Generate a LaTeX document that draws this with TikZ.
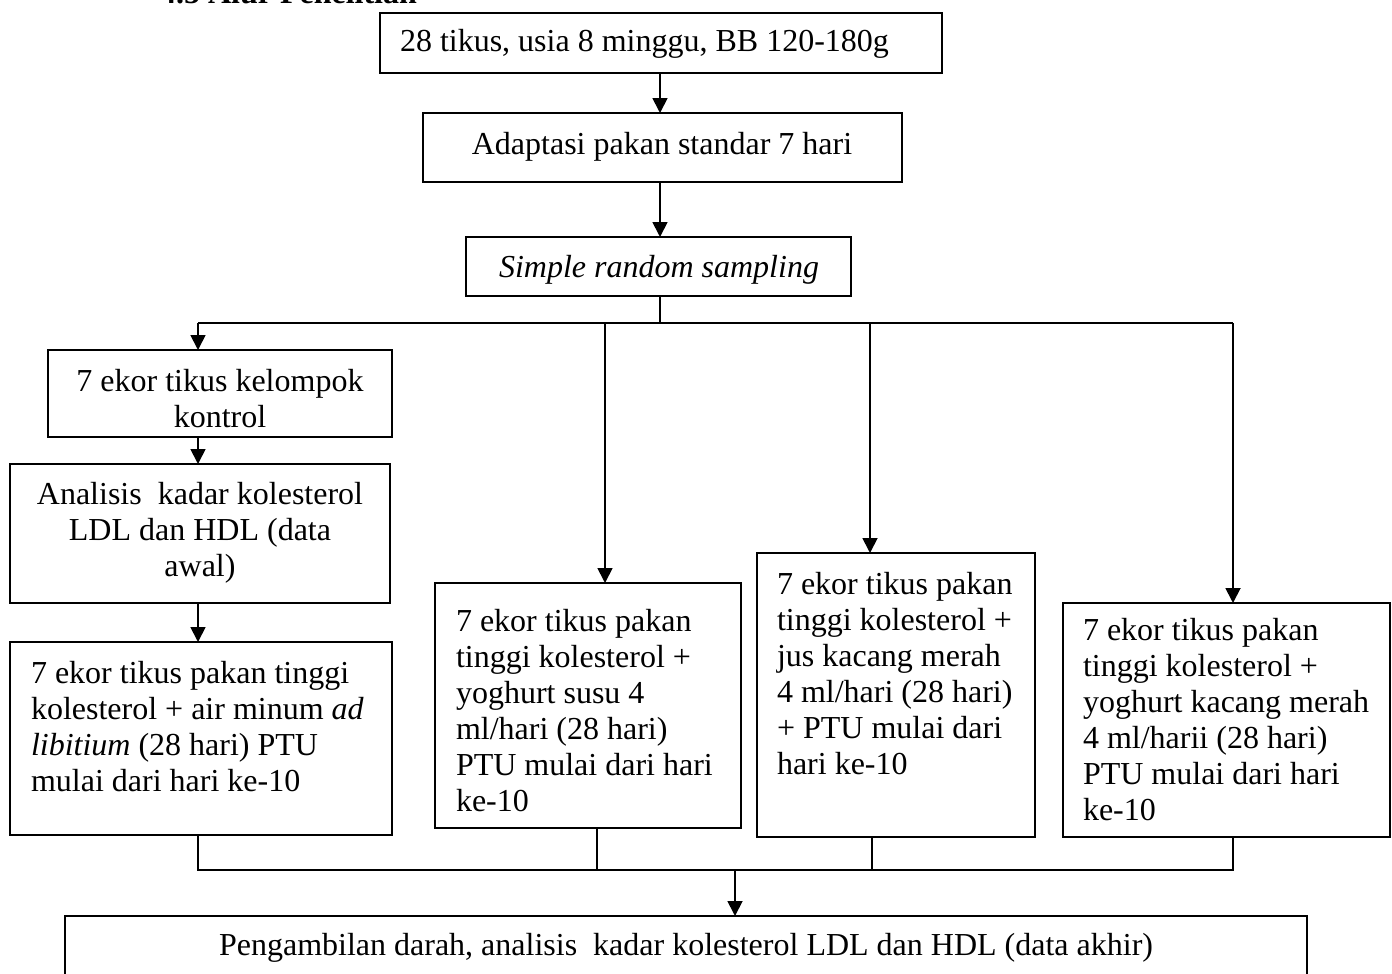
\documentclass[tikz,border=0pt]{standalone}
\usepackage{fontspec}
\setmainfont{Liberation Serif}
\usetikzlibrary{arrows.meta}
\begin{document}
\begin{tikzpicture}[x=1pt,y=-1pt,
  box/.style={draw, line width=1.8pt, inner sep=0pt, outer sep=0pt},
  txt/.style={inner sep=0pt, outer sep=0pt, font=\fontsize{32}{36}\selectfont},
  ctxt/.style={txt, align=flush center, text width=#1pt, anchor=base},
  ltxt/.style={txt, align=flush left, text width=#1pt, anchor=base west},
  ln/.style={line width=1.8pt},
  arr/.style={line width=1.8pt, -{Triangle[length=15pt,width=15pt]}}]
\useasboundingbox (0,0) rectangle (1392,974);
\clip (0,0) rectangle (1392,974);
% header (cut off at top)
\node[txt, anchor=base west, font=\fontsize{32}{36}\selectfont\bfseries] (hdr) at (160,4) {4.5 Alur Penelitian};
% boxes
\node[box, minimum width=562pt, minimum height=60pt] (b1) at (661,43) {};
\node[box, minimum width=479pt, minimum height=69pt] (b2) at (662.5,147.5) {};
\node[box, minimum width=385pt, minimum height=59pt] (b3) at (658.5,266.5) {};
\node[box, minimum width=344pt, minimum height=87pt] (b4) at (220,393.5) {};
\node[box, minimum width=380pt, minimum height=139pt] (b5) at (200,533.5) {};
\node[box, minimum width=382pt, minimum height=193pt] (b6) at (201,738.5) {};
\node[box, minimum width=306pt, minimum height=245pt] (b7) at (588,705.5) {};
\node[box, minimum width=278pt, minimum height=284pt] (b8) at (896,695) {};
\node[box, minimum width=327pt, minimum height=234pt] (b9) at (1226.5,720) {};
\node[box, minimum width=1242pt, minimum height=84pt] (b10) at (686,958) {};
% texts
\node[txt, anchor=base west] (t1) at (400,52) {28 tikus, usia 8 minggu, BB 120-180g};
\node[txt, anchor=base] (t2) at (662,154) {Adaptasi pakan standar 7 hari};
\node[txt, anchor=base] (t3) at (659,277) {\itshape Simple random sampling};
\node[ctxt=344] (t4) at (220,391) {7 ekor tikus kelompok\\kontrol};
\node[ctxt=380] (t5) at (200,504) {Analisis\ \ kadar kolesterol\\LDL dan HDL (data\\awal)};
\node[ltxt=360] (t6) at (31,683) {7 ekor tikus pakan tinggi\\kolesterol + air minum \textit{ad}\\\textit{libitium} (28 hari) PTU\\mulai dari hari ke-10};
\node[ltxt=285] (t7) at (456,631) {7 ekor tikus pakan\\tinggi kolesterol +\\yoghurt susu 4\\ml/hari (28 hari)\\PTU mulai dari hari\\ke-10};
\node[ltxt=258] (t8) at (777,594) {7 ekor tikus pakan\\tinggi kolesterol +\\jus kacang merah\\4 ml/hari (28 hari)\\+ PTU mulai dari\\hari ke-10};
\node[ltxt=305] (t9) at (1083,640) {7 ekor tikus pakan\\tinggi kolesterol +\\yoghurt kacang merah\\4 ml/harii (28 hari)\\PTU mulai dari hari\\ke-10};
\node[txt, anchor=base] (t10) at (686,955) {Pengambilan darah, analisis\ \ kadar kolesterol LDL dan HDL (data akhir)};
% coordinates
\coordinate (m) at (660,0);
\coordinate (hl) at (660,323);
\coordinate (cL) at (198,323);
\coordinate (c7) at (605,323);
\coordinate (c8) at (870,323);
\coordinate (cR) at (1233,323);
\coordinate (dL) at (198,870);
\coordinate (d7) at (597,870);
\coordinate (d8) at (872,870);
\coordinate (dR) at (1233,870);
\coordinate (e) at (735,870);
% connectors
\draw[arr] (m |- b1.south) -- (m |- b2.north);
\draw[arr] (m |- b2.south) -- (m |- b3.north);
\draw[ln] (m |- b3.south) -- (hl);
\draw[ln] (cL) -- (cR);
\draw[arr] (cL) -- (cL |- b4.north);
\draw[arr] (c7) -- (c7 |- b7.north);
\draw[arr] (c8) -- (c8 |- b8.north);
\draw[arr] (cR) -- (cR |- b9.north);
\draw[arr] (cL |- b4.south) -- (cL |- b5.north);
\draw[arr] (cL |- b5.south) -- (cL |- b6.north);
\draw[ln] (cL |- b6.south) -- (dL) -- (dR) -- (dR |- b9.south);
\draw[ln] (d7 |- b7.south) -- (d7);
\draw[ln] (d8 |- b8.south) -- (d8);
\draw[arr] (e) -- (e |- b10.north);
\end{tikzpicture}
\end{document}
